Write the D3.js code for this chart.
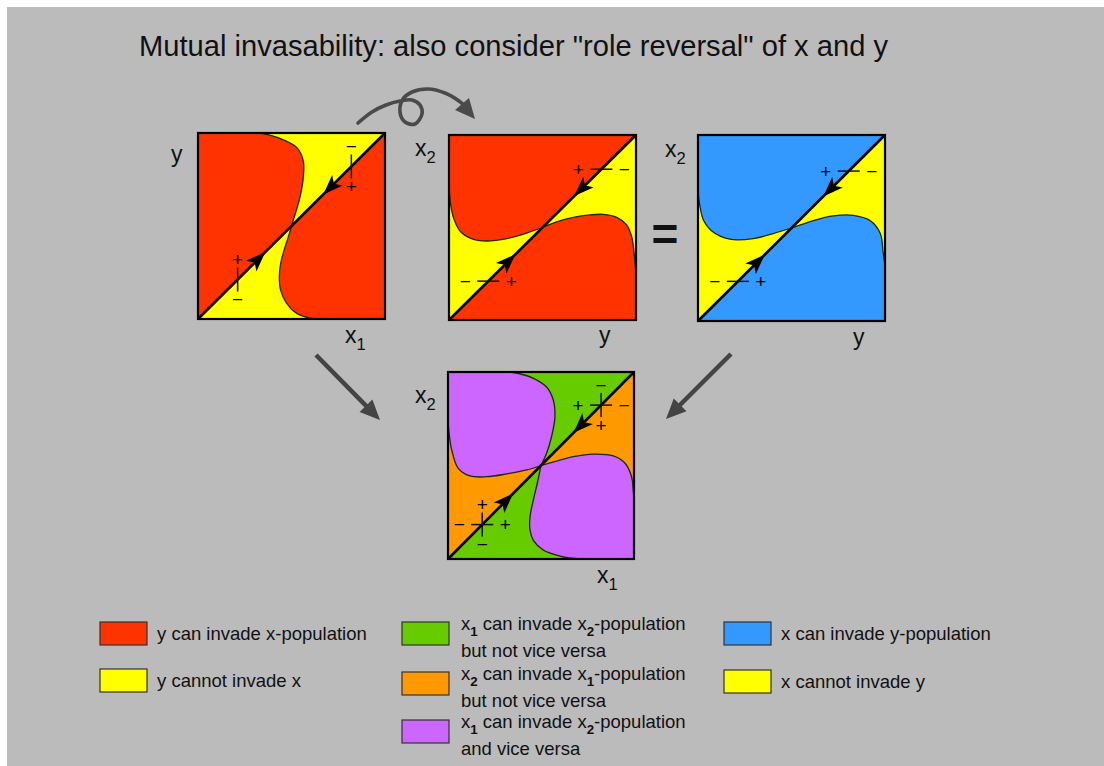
<!DOCTYPE html>
<html>
<head>
<meta charset="utf-8">
<script src="https://cdn.jsdelivr.net/npm/d3@7"></script>
<style>
  html, body { margin: 0; padding: 0; background: #fff; }
  svg { display: block; font-family: 'Liberation Sans', Arial, sans-serif; }
</style>
</head>
<body>
<svg id="chart" width="1104" height="766"></svg>
<script>
// boundary curves in unit-square coords (0,0 = bottom left), each starts at the diagonal crossing
const P1_UPPER = [[0.5, 0.5], [0.52, 0.565], [0.545, 0.654], [0.563, 0.76], [0.563, 0.85], [0.53, 0.92], [0.46, 0.962], [0.38, 0.99], [0.33, 1]];
const P1_LOWER = [[0.5, 0.5], [0.483, 0.44], [0.46, 0.369], [0.442, 0.298], [0.435, 0.226], [0.442, 0.155], [0.474, 0.084], [0.528, 0.03], [0.6, 0.005], [0.65, 0]];

const P2_UPPER = [[0.5, 0.5], [0.415, 0.47], [0.31, 0.44], [0.2, 0.427], [0.12, 0.44], [0.06, 0.48], [0.025, 0.55], [0.008, 0.63], [0, 0.74]];
const P2_LOWER = [[0.5, 0.5], [0.576, 0.531], [0.665, 0.555], [0.754, 0.568], [0.825, 0.571], [0.897, 0.555], [0.95, 0.514], [0.977, 0.45], [0.99, 0.36], [1, 0.25]];

const P3_UPPER = [[0.5, 0.5], [0.402, 0.47], [0.295, 0.443], [0.17, 0.44], [0.07, 0.487], [0.03, 0.54], [0.01, 0.62], [0, 0.7]];
const P3_LOWER = [[0.5, 0.5], [0.617, 0.54], [0.724, 0.565], [0.83, 0.568], [0.92, 0.54], [0.975, 0.47], [0.99, 0.37], [1, 0.3]];

const P4_UPPER_V = [[0.5, 0.5], [0.53, 0.565], [0.557, 0.655], [0.575, 0.76], [0.566, 0.85], [0.53, 0.92], [0.459, 0.966], [0.38, 0.992], [0.33, 1]];
const P4_UPPER_H = [[0.5, 0.5], [0.423, 0.476], [0.316, 0.455], [0.208, 0.44], [0.118, 0.444], [0.055, 0.485], [0.02, 0.583], [0.006, 0.67], [0, 0.75]];
const P4_LOWER_V = [[0.5, 0.5], [0.48, 0.405], [0.459, 0.316], [0.441, 0.226], [0.441, 0.155], [0.459, 0.1], [0.512, 0.048], [0.602, 0.016], [0.68, 0.003], [0.72, 0]];
const P4_LOWER_H = [[0.5, 0.5], [0.584, 0.524], [0.674, 0.547], [0.781, 0.561], [0.889, 0.551], [0.952, 0.512], [0.987, 0.44], [0.996, 0.369], [1, 0.3]];

// arrowheads on the diagonal (t = position along it, dir +1 = up-right)
const P1_TIPS = [{ t: 0.36, dir: 1 }, { t: 0.67, dir: -1 }];
const P2_TIPS = [{ t: 0.355, dir: 1 }, { t: 0.67, dir: -1 }];
const P3_TIPS = [{ t: 0.357, dir: 1 }, { t: 0.67, dir: -1 }];
const P4_TIPS = [{ t: 0.35, dir: 1 }, { t: 0.675, dir: -1 }];

// +/- markers on the diagonal
const P1_MARKS = [{ t: 0.212, kind: 'v', above: '+', below: '\u2212' }, { t: 0.82, kind: 'v', above: '\u2212', below: '+' }];
const P2_MARKS = [{ t: 0.815, kind: 'h', left: '+', right: '\u2212' }, { t: 0.21, kind: 'h', left: '\u2212', right: '+' }];
const P3_MARKS = [{ t: 0.806, kind: 'h', left: '+', right: '\u2212' }, { t: 0.213, kind: 'h', left: '\u2212', right: '+' }];
const P4_MARKS = [
  { t: 0.823, kind: 'vh', above: '\u2212', below: '+', left: '+', right: '\u2212' },
  { t: 0.184, kind: 'vh', above: '+', below: '\u2212', left: '\u2212', right: '+' },
];

const X_LABELS = ['x_1', 'y', 'y', 'x_1'];
const Y_LABELS = ['y', 'x_2', 'x_2', 'x_2'];

const TITLE = 'Mutual invasability: also consider "role reversal" of x and y';

const LEGEND_COLORS = ['#ff3300', '#ffff00', '#66cc00', '#ff9900', '#cc66ff', '#3399ff', '#ffff00'];
const LEGEND_TEXT = [
  ['y can invade x-population'],
  ['y cannot invade x'],
  ['x_1 can invade x_2-population', 'but not vice versa'],
  ['x_2 can invade x_1-population', 'but not vice versa'],
  ['x_1 can invade x_2-population', 'and vice versa'],
  ['x can invade y-population'],
  ['x cannot invade y'],
];

const RED = '#ff3300', YELLOW = '#ffff00', BLUE = '#3399ff', GREEN = '#66cc00', ORANGE = '#ff9900', PURPLE = '#cc66ff';

const SVG = d3.select('#chart');

SVG.append('rect')
  .attr('x', 7).attr('y', 7)
  .attr('width', 1097).attr('height', 759)
  .style('fill', '#bbbbbb');

SVG.append('text')
  .attr('x', 139).attr('y', 56)
  .attr('textLength', 749)
  .attr('lengthAdjust', 'spacingAndGlyphs')
  .style('font-size', '29px')
  .style('fill', '#111')
  .text(TITLE);

// text with "_d" subscripts
function richText(g, x, y, str, size, boldSub) {
  const t = g.append('text').attr('x', x).attr('y', y).style('font-size', size + 'px').style('fill', '#111');
  const parts = str.split(/(_\d)/).filter((s) => s);
  let shifted = false;
  parts.forEach((p) => {
    if (p[0] === '_') {
      t.append('tspan')
        .attr('dy', size * 0.32)
        .style('font-size', size * 0.72 + 'px')
        .style('font-weight', boldSub ? 'bold' : 'normal')
        .text(p.slice(1));
      shifted = true;
    } else {
      t.append('tspan').attr('dy', shifted ? -size * 0.32 : 0).text(p);
      shifted = false;
    }
  });
  return t;
}

const PANELS = [
  {
    x: 198, y: 133, w: 187, h: 186, base: RED,
    regions: [
      { fill: YELLOW, parts: [['c', P1_UPPER], ['p', [[1, 1]]]] },
      { fill: YELLOW, parts: [['c', P1_LOWER], ['p', [[0, 0]]]] },
    ],
    curves: [P1_UPPER, P1_LOWER], tips: P1_TIPS, marks: P1_MARKS,
    xLab: X_LABELS[0], yLab: Y_LABELS[0], xPos: [345, 343], yPos: [171, 162],
  },
  {
    x: 449, y: 135, w: 187, h: 185, base: RED,
    regions: [
      { fill: YELLOW, parts: [['c', P2_UPPER], ['p', [[0, 0]]]] },
      { fill: YELLOW, parts: [['c', P2_LOWER], ['p', [[1, 1]]]] },
    ],
    curves: [P2_UPPER, P2_LOWER], tips: P2_TIPS, marks: P2_MARKS,
    xLab: X_LABELS[1], yLab: Y_LABELS[1], xPos: [599, 343], yPos: [415, 156],
  },
  {
    x: 698, y: 135, w: 187, h: 186, base: BLUE,
    regions: [
      { fill: YELLOW, parts: [['c', P3_UPPER], ['p', [[0, 0]]]] },
      { fill: YELLOW, parts: [['c', P3_LOWER], ['p', [[1, 1]]]] },
    ],
    curves: [P3_UPPER, P3_LOWER], tips: P3_TIPS, marks: P3_MARKS,
    xLab: X_LABELS[2], yLab: Y_LABELS[2], xPos: [853, 345], yPos: [665, 157],
  },
  {
    x: 448, y: 372, w: 186, h: 187, base: ORANGE,
    regions: [
      { fill: GREEN, parts: [['c', P4_UPPER_V], ['p', [[1, 1]]]] },
      { fill: GREEN, parts: [['c', P4_LOWER_V], ['p', [[0, 0]]]] },
      { fill: PURPLE, parts: [['c', P4_UPPER_V], ['p', [[0, 1]]], ['c', P4_UPPER_H.slice().reverse()]] },
      { fill: PURPLE, parts: [['c', P4_LOWER_V], ['p', [[1, 0]]], ['c', P4_LOWER_H.slice().reverse()]] },
    ],
    curves: [P4_UPPER_V, P4_UPPER_H, P4_LOWER_V, P4_LOWER_H], tips: P4_TIPS, marks: P4_MARKS,
    xLab: X_LABELS[3], yLab: Y_LABELS[3], xPos: [597, 583], yPos: [415, 403],
  },
];

PANELS.forEach((p, i) => {
  const X = d3.scaleLinear().domain([0, 1]).range([p.x, p.x + p.w]);
  const Y = d3.scaleLinear().domain([0, 1]).range([p.y + p.h, p.y]);
  const smooth = d3.line().x((d) => X(d[0])).y((d) => Y(d[1])).curve(d3.curveCatmullRom.alpha(0.5));
  const G = SVG.append('g').attr('id', 'panel' + i);

  G.append('rect')
    .attr('x', X(0)).attr('y', Y(1))
    .attr('width', X(1) - X(0)).attr('height', Y(0) - Y(1))
    .style('fill', p.base);

  G.selectAll('path.region')
    .data(p.regions)
    .join('path')
    .attr('class', 'region')
    .attr('d', (r) => {
      let d = '';
      r.parts.forEach(([kind, pts], k) => {
        if (kind === 'c') {
          const s = smooth(pts);
          d += k === 0 ? s : 'L' + s.slice(1);
        } else {
          pts.forEach((q) => { d += `L${X(q[0])},${Y(q[1])}`; });
        }
      });
      return d + 'Z';
    })
    .style('fill', (r) => r.fill)
    .style('stroke', 'none');

  G.selectAll('path.curve')
    .data(p.curves)
    .join('path')
    .attr('class', 'curve')
    .attr('d', smooth)
    .style('fill', 'none')
    .style('stroke', '#1b2a0a')
    .style('stroke-width', 1.3);

  G.append('line')
    .attr('x1', X(0)).attr('y1', Y(0))
    .attr('x2', X(1)).attr('y2', Y(1))
    .style('stroke', '#000')
    .style('stroke-width', 2.6);

  // arrowheads along the diagonal
  const len = Math.hypot(X(1) - X(0), Y(1) - Y(0));
  const ux = (X(1) - X(0)) / len, uy = (Y(1) - Y(0)) / len;
  G.selectAll('path.tip')
    .data(p.tips)
    .join('path')
    .attr('class', 'tip')
    .attr('d', (a) => {
      const tx = X(a.t), ty = Y(a.t);
      const dx = ux * a.dir, dy = uy * a.dir;
      const L = 20, W = 7.5;
      const bx = tx - dx * L, by = ty - dy * L;
      const nx = tx - dx * L * 0.75, ny = ty - dy * L * 0.75;
      return `M${tx},${ty}L${bx - dy * W},${by + dx * W}L${nx},${ny}L${bx + dy * W},${by - dx * W}Z`;
    })
    .style('fill', '#000');

  // +/- markers
  p.marks.forEach((m) => {
    const cx = X(m.t), cy = Y(m.t);
    const MG = G.append('g').attr('class', 'mark');
    if (m.kind.includes('v')) {
      MG.append('line').attr('x1', cx).attr('x2', cx).attr('y1', cy - 12).attr('y2', cy + 12);
      MG.append('text').attr('x', cx).attr('y', cy - 20).text(m.above);
      MG.append('text').attr('x', cx).attr('y', cy + 20).text(m.below);
    }
    if (m.kind.includes('h')) {
      MG.append('line').attr('x1', cx - 11).attr('x2', cx + 11).attr('y1', cy).attr('y2', cy);
      MG.append('text').attr('x', cx - 23).attr('y', cy).text(m.left);
      MG.append('text').attr('x', cx + 23).attr('y', cy).text(m.right);
    }
    MG.selectAll('line').style('stroke', '#111').style('stroke-width', 1.5);
    MG.selectAll('text')
      .style('font-size', '19px')
      .style('text-anchor', 'middle')
      .style('dominant-baseline', 'central')
      .style('fill', '#000');
  });

  G.append('rect')
    .attr('x', X(0)).attr('y', Y(1))
    .attr('width', X(1) - X(0)).attr('height', Y(0) - Y(1))
    .style('fill', 'none')
    .style('stroke', '#000')
    .style('stroke-width', 2.2);

  richText(SVG, p.xPos[0], p.xPos[1], p.xLab, 23, false);
  richText(SVG, p.yPos[0], p.yPos[1], p.yLab, 23, false);
});

// "=" between the two upper right panels
SVG.append('text')
  .attr('x', 665).attr('y', 250)
  .style('font-size', '46px')
  .style('font-weight', 'bold')
  .style('text-anchor', 'middle')
  .style('fill', '#111')
  .text('=');

// grey flow arrows
function arrow(from, to, color, width, L, W) {
  const dx = to[0] - from[0], dy = to[1] - from[1];
  const n = Math.hypot(dx, dy), ux = dx / n, uy = dy / n;
  const bx = to[0] - ux * L, by = to[1] - uy * L;
  SVG.append('line')
    .attr('x1', from[0]).attr('y1', from[1])
    .attr('x2', bx + ux * 2).attr('y2', by + uy * 2)
    .style('stroke', color).style('stroke-width', width);
  SVG.append('path')
    .attr('d', `M${to[0]},${to[1]}L${bx - uy * W},${by + ux * W}L${bx + uy * W},${by - ux * W}Z`)
    .style('fill', color);
}
arrow([316, 355], [380, 420], '#444', 4.5, 20, 9);
arrow([731, 354], [666, 419], '#444', 4.5, 20, 9);

// curly "role reversal" arrow
const CURL = [[358, 123], [372, 112], [386, 105], [400, 101], [412, 100], [420, 105], [422, 114], [415, 124], [405, 122], [400, 112], [403, 99], [412, 92], [428, 89], [445, 93], [459, 101], [466, 107]];
SVG.append('path')
  .attr('d', d3.line().curve(d3.curveCatmullRom.alpha(0.5))(CURL))
  .style('fill', 'none')
  .style('stroke', '#4a4a4a')
  .style('stroke-width', 3.6)
  .style('stroke-linecap', 'round');
SVG.append('path')
  .attr('d', 'M475,119L455,110L469,98Z')
  .style('fill', '#4a4a4a');

// legend
const LEGEND_POS = [[100, 622], [100, 669], [402, 622], [402, 672], [402, 720], [724, 622], [724, 670]];
const LG = SVG.append('g').attr('id', 'legend');
LEGEND_TEXT.forEach((lines, i) => {
  const [lx, ly] = LEGEND_POS[i];
  LG.append('rect')
    .attr('x', lx).attr('y', ly)
    .attr('width', 47).attr('height', 23)
    .style('fill', LEGEND_COLORS[i])
    .style('stroke', '#333')
    .style('stroke-width', 1.2);
  if (lines.length === 1) {
    richText(LG, lx + 57, ly + 18, lines[0], 18.5, true);
  } else {
    lines.forEach((s, k) => richText(LG, lx + 59, ly + 8 + k * 27, s, 18.5, true));
  }
});
</script>
</body>
</html>
